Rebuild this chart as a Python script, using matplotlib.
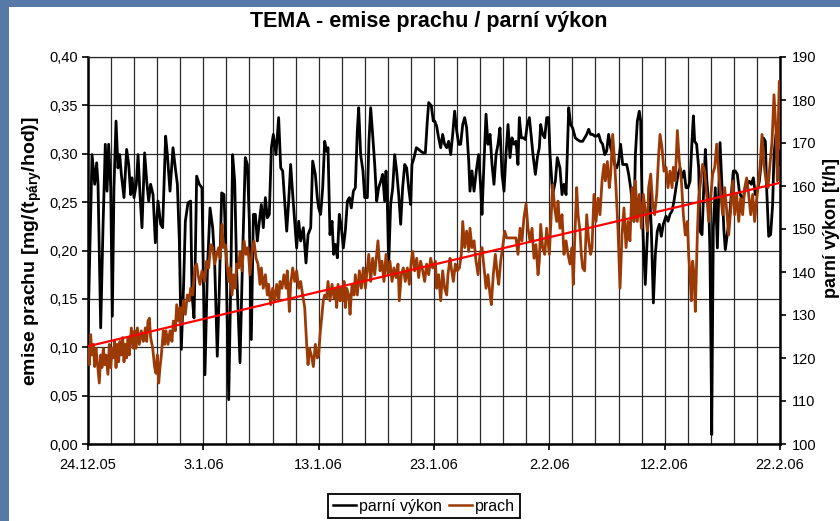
import matplotlib
matplotlib.use("Agg")
import matplotlib.pyplot as plt
from matplotlib.patches import Rectangle
from matplotlib.ticker import MultipleLocator, FuncFormatter

plt.rcParams['font.family'] = ['Liberation Sans', 'DejaVu Sans']
plt.rcParams['mathtext.fontset'] = 'custom'
plt.rcParams['mathtext.rm'] = 'Liberation Sans:bold'
plt.rcParams['mathtext.it'] = 'Liberation Sans:bold'
plt.rcParams['mathtext.bf'] = 'Liberation Sans:bold'
plt.rcParams['mathtext.default'] = 'rm'

# ---------------- data ----------------
title = "TEMA - emise prachu / parní výkon"
x_tick_days = [0, 10, 20, 30, 40, 50, 60]
x_tick_labels = ["24.12.05", "3.1.06", "13.1.06", "23.1.06", "2.2.06", "12.2.06", "22.2.06"]
left_ticks = [0.0, 0.05, 0.10, 0.15, 0.20, 0.25, 0.30, 0.35, 0.40]
right_ticks = [100, 110, 120, 130, 140, 150, 160, 170, 180, 190]
series_names = ["parní výkon", "prach"]

# parní výkon [t/h]  (day since 24.12.05, value)
vykon_points = [
    (0.00,126.2),(0.35,167.3),(0.58,160.4),(0.75,165.4),(0.87,160.4),(1.10,127.0),(1.30,150.3),(1.50,169.7),
    (1.65,158.8),(1.79,169.7),(1.97,159.6),(2.11,129.7),(2.25,159.6),(2.43,175.1),(2.60,164.2),(2.75,167.3),
    (2.89,162.7),(3.12,157.3),(3.35,168.5),(3.53,165.0),(3.70,158.0),(3.82,161.9),(3.99,157.3),(4.19,160.4),
    (4.34,167.3),(4.51,158.0),(4.68,150.3),(4.91,167.7),(5.09,161.1),(5.26,156.5),(5.43,160.4),(5.64,158.0),
    (5.84,146.8),(6.07,156.5),(6.30,151.1),(6.47,150.3),(6.73,171.6),(6.88,167.3),(7.11,158.8),(7.37,168.9),
    (7.57,164.2),(7.75,160.4),(7.92,147.2),(8.09,122.0),(8.29,137.1),(8.44,151.8),(8.67,156.1),(8.90,156.5),
    (9.02,134.8),(9.19,129.3),(9.31,144.1),(9.42,162.3),(9.65,160.4),(9.88,159.6),
    (10.14,116.1),(10.35,140.2),(10.58,154.9),(10.81,150.3),(10.98,142.5),(11.21,120.4),(11.39,136.3),
    (11.59,158.4),(11.79,158.0),(11.97,144.1),(12.20,110.3),(12.37,136.3),(12.54,167.3),(12.72,161.1),
    (12.89,140.2),(13.18,118.9),(13.41,144.1),(13.64,166.6),(13.82,165.0),(13.99,151.8),(14.16,124.3),
    (14.34,153.4),(14.51,153.4),(14.68,147.2),(14.86,151.8),(15.03,155.7),(15.20,150.3),(15.38,157.3),
    (15.55,152.6),(15.72,153.4),(15.90,168.9),(16.07,172.0),(16.30,167.3),(16.53,175.9),(16.71,164.2),
    (16.88,163.5),(17.05,156.5),(17.23,149.5),(17.40,156.5),(17.57,165.0),(17.75,158.0),(17.92,151.8),
    (18.09,145.6),(18.27,151.8),(18.44,147.2),(18.67,150.3),(18.90,142.1),(19.08,148.7),(19.31,150.3),
    (19.48,165.8),(19.71,162.7),(19.88,157.3),
    (20.00,154.9),(20.17,153.4),(20.35,159.6),(20.52,170.4),(20.69,168.1),(20.81,168.9),(20.98,148.7),
    (21.16,151.8),(21.30,144.1),(21.45,146.4),(21.62,143.3),(21.79,153.4),(21.97,150.3),(22.14,145.6),
    (22.31,149.5),(22.49,156.5),(22.66,157.3),(22.83,154.9),(23.01,158.8),(23.18,159.6),(23.35,172.8),
    (23.47,178.2),(23.64,167.3),(23.84,163.5),(23.99,157.3),(24.22,157.3),(24.36,170.4),(24.51,178.2),
    (24.68,172.0),(24.86,165.0),(25.03,156.5),(25.20,159.6),(25.38,161.1),(25.55,162.7),(25.72,156.5),
    (25.84,163.5),(25.95,156.5),(26.07,141.7),(26.24,155.7),(26.42,159.6),(26.59,167.3),(26.76,163.5),
    (26.94,158.0),(27.11,151.1),(27.28,159.6),(27.46,165.0),(27.63,164.2),(27.80,159.6),(27.98,155.7),
    (28.09,165.0),(28.27,166.6),(28.47,168.9),(28.67,168.5),(28.84,168.1),(29.08,167.7),(29.25,167.7),
    (29.42,175.1),(29.54,179.4),(29.77,178.6),(29.94,175.1),
    (30.06,175.1),(30.23,173.9),(30.40,171.2),(30.58,168.9),(30.75,172.0),(30.92,169.7),(31.10,168.9),
    (31.27,170.4),(31.45,167.3),(31.62,172.0),(31.79,177.4),(31.97,172.8),(32.14,169.7),(32.31,169.7),
    (32.49,174.3),(32.66,175.9),(32.83,173.5),(33.01,165.8),(33.12,158.8),(33.29,163.5),(33.47,158.8),
    (33.70,164.2),(33.87,167.3),(34.05,159.6),(34.16,153.4),(34.34,165.8),(34.51,176.7),(34.68,169.7),
    (34.86,172.0),(35.03,165.0),(35.20,160.4),(35.38,167.3),(35.55,169.7),(35.72,173.5),(35.90,162.7),
    (36.07,158.8),(36.24,167.3),(36.42,174.3),(36.59,166.6),(36.76,171.2),(36.94,169.7),(37.11,170.4),
    (37.28,165.0),(37.40,175.9),(37.57,171.2),(37.75,171.2),(37.92,170.8),(38.09,174.3),(38.27,175.9),
    (38.44,171.2),(38.61,166.6),(38.79,162.7),(38.96,166.6),(39.13,168.9),(39.25,174.3),(39.42,172.0),
    (39.60,171.2),(39.77,175.9),(39.94,175.9),
    (40.06,167.3),(40.29,158.0),(40.52,161.1),(40.69,166.6),(40.92,164.2),(41.10,158.0),(41.27,160.4),
    (41.45,158.0),(41.56,167.3),(41.68,178.2),(41.85,174.3),(42.02,173.5),(42.25,171.2),(42.43,170.8),
    (42.66,170.4),(42.89,170.4),(43.06,171.2),(43.24,172.0),(43.41,173.2),(43.58,172.0),(43.76,172.0),
    (43.93,171.6),(44.10,171.6),(44.28,172.0),(44.45,170.4),(44.62,169.7),(44.80,167.3),(44.97,168.1),
    (45.14,172.0),(45.32,168.9),(45.49,167.3),(45.66,165.0),(45.84,164.2),(46.01,165.8),(46.18,169.7),
    (46.36,165.0),(46.53,165.0),(46.71,165.0),(46.88,162.7),(47.05,159.6),(47.23,154.9),(47.34,151.8),
    (47.46,167.3),(47.63,175.1),(47.80,177.4),(47.92,175.1),(48.03,158.0),(48.15,147.2),(48.32,137.1),
    (48.50,148.7),(48.67,159.6),(48.84,150.3),(49.02,132.8),(49.19,144.1),(49.36,149.5),(49.54,151.1),
    (49.71,148.3),(49.88,151.1),
    (50.12,153.0),(50.29,151.8),(50.46,153.4),(50.64,154.2),(50.81,156.5),(50.98,159.6),(51.16,162.7),
    (51.33,164.2),(51.50,161.9),(51.68,163.5),(51.85,159.6),(52.02,159.6),(52.20,161.1),(52.37,170.4),
    (52.49,176.3),(52.60,170.4),(52.77,169.7),(52.95,164.2),(53.06,149.5),(53.24,148.7),(53.41,161.1),
    (53.53,168.5),(53.64,161.9),(53.82,155.7),(53.93,144.1),(54.02,120.8),(54.08,102.2),(54.13,120.8),
    (54.22,150.3),(54.39,159.6),(54.57,145.6),(54.68,157.3),(54.80,170.1),(54.97,159.6),(55.14,149.5),
    (55.26,145.2),(55.43,148.7),(55.61,152.6),(55.78,158.0),(55.95,163.5),(56.13,163.5),(56.30,162.7),
    (56.47,158.8),(56.65,157.3),(56.82,157.3),(56.99,159.6),(57.17,160.4),(57.34,161.1),(57.51,160.4),
    (57.69,161.9),(57.86,158.0),(58.03,158.8),(58.21,161.1),(58.38,165.8),(58.55,171.2),(58.73,170.4),
    (58.84,159.6),(59.02,148.3),(59.19,148.7),(59.36,155.7),(59.48,167.3),(59.65,172.0),(59.77,164.2),
    (59.88,168.9),(60.00,165.0),
]

# prach [mg/(t_páry/hod)]  (day since 24.12.05, value)
prach_points = [
    (0.00,0.099),(0.12,0.082),(0.23,0.113),(0.35,0.092),(0.46,0.103),(0.58,0.080),(0.69,0.099),(0.81,0.085),
    (0.98,0.063),(1.10,0.092),(1.21,0.079),(1.33,0.099),(1.45,0.082),(1.56,0.092),(1.73,0.072),(1.85,0.103),
    (1.97,0.079),(2.08,0.099),(2.20,0.089),(2.31,0.106),(2.43,0.079),(2.54,0.103),(2.66,0.085),(2.77,0.106),
    (2.89,0.092),(3.01,0.110),(3.12,0.085),(3.24,0.103),(3.35,0.089),(3.47,0.110),(3.58,0.092),(3.76,0.120),
    (3.93,0.099),(4.05,0.117),(4.16,0.099),(4.28,0.120),(4.45,0.103),(4.62,0.117),(4.80,0.106),(4.97,0.120),
    (5.09,0.106),(5.20,0.127),(5.32,0.130),(5.43,0.110),(5.61,0.099),(5.78,0.079),(5.90,0.073),(6.01,0.092),
    (6.13,0.063),(6.24,0.079),(6.36,0.092),(6.53,0.117),(6.65,0.103),(6.76,0.117),(6.94,0.103),(7.11,0.117),
    (7.28,0.106),(7.40,0.127),(7.57,0.117),(7.69,0.144),(7.86,0.127),(7.98,0.141),(8.09,0.123),(8.27,0.148),
    (8.44,0.134),(8.61,0.154),(8.79,0.148),(8.90,0.161),(9.08,0.154),(9.25,0.182),(9.42,0.186),(9.54,0.175),
    (9.71,0.165),(9.88,0.179),
    (10.12,0.168),(10.29,0.189),(10.46,0.182),(10.64,0.206),(10.81,0.203),(10.98,0.186),(11.16,0.196),
    (11.33,0.203),(11.45,0.192),(11.62,0.227),(11.73,0.203),(11.91,0.206),(12.02,0.189),(12.20,0.168),
    (12.31,0.182),(12.49,0.154),(12.60,0.175),(12.77,0.161),(12.89,0.186),(13.06,0.182),(13.18,0.199),
    (13.35,0.179),(13.53,0.210),(13.70,0.196),(13.87,0.203),(14.05,0.175),(14.22,0.199),(14.39,0.210),
    (14.57,0.192),(14.74,0.186),(14.91,0.165),(15.03,0.182),(15.20,0.161),(15.38,0.175),(15.55,0.154),
    (15.66,0.165),(15.84,0.144),(16.01,0.161),(16.18,0.148),(16.36,0.165),(16.53,0.148),(16.65,0.168),
    (16.82,0.161),(16.99,0.175),(17.17,0.161),(17.28,0.179),(17.46,0.137),(17.57,0.165),(17.75,0.182),
    (17.92,0.168),(18.09,0.179),(18.27,0.161),(18.44,0.168),(18.61,0.154),(18.79,0.141),(18.96,0.103),
    (19.08,0.082),(19.19,0.099),(19.36,0.092),(19.54,0.080),(19.71,0.103),(19.88,0.089),
    (20.00,0.092),(20.12,0.113),(20.23,0.127),(20.40,0.148),(20.52,0.154),(20.69,0.151),(20.81,0.168),
    (20.98,0.148),(21.16,0.165),(21.33,0.151),(21.45,0.161),(21.56,0.141),(21.68,0.165),(21.85,0.148),
    (21.97,0.161),(22.08,0.148),(22.20,0.168),(22.31,0.141),(22.43,0.161),(22.60,0.154),(22.72,0.134),
    (22.89,0.165),(23.06,0.154),(23.18,0.175),(23.35,0.154),(23.53,0.179),(23.70,0.161),(23.87,0.182),
    (24.05,0.161),(24.22,0.182),(24.34,0.196),(24.51,0.168),(24.68,0.192),(24.86,0.175),(25.03,0.196),
    (25.14,0.210),(25.32,0.179),(25.49,0.189),(25.66,0.168),(25.84,0.196),(26.01,0.175),(26.18,0.189),
    (26.36,0.168),(26.53,0.182),(26.71,0.172),(26.88,0.186),(26.99,0.148),(27.17,0.175),(27.34,0.182),
    (27.51,0.168),(27.69,0.182),(27.86,0.165),(28.03,0.189),(28.15,0.199),(28.32,0.179),(28.50,0.192),
    (28.67,0.172),(28.84,0.189),(29.02,0.179),(29.19,0.168),(29.36,0.186),(29.54,0.175),(29.71,0.192),
    (29.88,0.182),
    (30.12,0.189),(30.23,0.161),(30.40,0.175),(30.58,0.148),(30.75,0.179),(30.92,0.161),(31.10,0.154),
    (31.21,0.175),(31.39,0.192),(31.50,0.182),(31.68,0.168),(31.85,0.186),(32.02,0.179),(32.20,0.182),
    (32.37,0.196),(32.49,0.230),(32.66,0.203),(32.83,0.220),(33.01,0.199),(33.12,0.223),(33.29,0.203),
    (33.47,0.210),(33.64,0.189),(33.82,0.175),(33.99,0.196),(34.16,0.203),(34.34,0.182),(34.51,0.161),
    (34.68,0.175),(34.86,0.154),(34.97,0.144),(35.14,0.175),(35.32,0.196),(35.49,0.175),(35.61,0.165),
    (35.78,0.189),(35.95,0.203),(36.13,0.220),(36.30,0.213),(36.59,0.213),(36.88,0.213),(37.11,0.213),
    (37.28,0.196),(37.46,0.223),(37.63,0.210),(37.80,0.234),(37.98,0.248),(38.15,0.223),(38.32,0.210),
    (38.50,0.223),(38.67,0.192),(38.84,0.206),(39.02,0.175),(39.13,0.189),(39.25,0.227),(39.42,0.203),
    (39.60,0.196),(39.77,0.223),(39.94,0.203),
    (40.00,0.196),(40.17,0.237),(40.29,0.268),(40.46,0.244),(40.64,0.230),(40.75,0.251),(40.92,0.223),
    (41.10,0.237),(41.27,0.196),(41.45,0.210),(41.62,0.196),(41.79,0.186),(41.97,0.203),(42.08,0.165),
    (42.20,0.210),(42.37,0.265),(42.49,0.237),(42.66,0.220),(42.77,0.196),(42.89,0.182),(43.06,0.179),
    (43.24,0.237),(43.41,0.210),(43.58,0.196),(43.70,0.203),(43.87,0.258),(44.05,0.230),(44.22,0.254),
    (44.39,0.237),(44.57,0.272),(44.74,0.289),(44.86,0.272),(45.03,0.292),(45.20,0.265),(45.32,0.279),
    (45.49,0.320),(45.66,0.292),(45.78,0.265),(45.95,0.223),(46.13,0.161),(46.30,0.216),(46.47,0.244),
    (46.65,0.203),(46.82,0.230),(46.99,0.210),(47.17,0.265),(47.34,0.230),(47.46,0.272),(47.63,0.230),
    (47.80,0.258),(47.98,0.223),(48.15,0.258),(48.32,0.241),(48.50,0.220),(48.61,0.265),(48.79,0.279),
    (48.96,0.248),(49.13,0.237),(49.31,0.258),(49.48,0.299),(49.60,0.320),(49.77,0.306),(49.94,0.282),
    (50.12,0.286),(50.29,0.265),(50.46,0.282),(50.64,0.265),(50.75,0.286),(50.92,0.272),(51.10,0.324),
    (51.27,0.292),(51.45,0.272),(51.62,0.237),(51.79,0.216),(51.97,0.230),(52.08,0.196),(52.20,0.175),
    (52.31,0.148),(52.43,0.189),(52.54,0.175),(52.66,0.137),(52.83,0.216),(52.95,0.254),(53.12,0.272),
    (53.29,0.289),(53.47,0.282),(53.64,0.258),(53.82,0.230),(53.99,0.254),(54.16,0.279),(54.34,0.286),
    (54.51,0.310),(54.68,0.282),(54.86,0.258),(55.03,0.237),(55.20,0.265),(55.38,0.241),(55.55,0.216),
    (55.72,0.241),(55.90,0.272),(56.07,0.237),(56.24,0.258),(56.42,0.230),(56.59,0.254),(56.76,0.237),
    (56.94,0.265),(57.11,0.275),(57.28,0.258),(57.46,0.237),(57.63,0.258),(57.80,0.230),(57.98,0.254),
    (58.15,0.272),(58.27,0.286),(58.44,0.320),(58.61,0.289),(58.79,0.272),(58.96,0.265),(59.13,0.289),
    (59.31,0.313),(59.48,0.361),(59.65,0.324),(59.77,0.272),(59.88,0.348),(59.94,0.375),(60.00,0.306),
]

# linear trend of prach (start / end of the period)
trend_days = [0, 60]
trend_vals = [0.101, 0.270]

vykon_days = [p[0] for p in vykon_points]
vykon_vals = [p[1] for p in vykon_points]
prach_days = [p[0] for p in prach_points]
prach_vals = [p[1] for p in prach_points]

# ---------------- figure ----------------
W, H = 840, 521
fig = plt.figure(figsize=(W / 100, H / 100), dpi=100)
fig.patch.set_facecolor('#5679a8')
fig.add_artist(Rectangle((9 / W, 0), 1, 1 - 7 / H, transform=fig.transFigure,
                         facecolor='white', edgecolor='none', zorder=0))

ax1 = fig.add_axes([88 / W, 77 / H, 692 / W, 387 / H])
ax2 = ax1.twinx()
ax1.set_zorder(1)
ax2.set_zorder(2)
ax1.patch.set_facecolor('white')
ax2.patch.set_visible(False)

ax1.set_xlim(0, 60)
ax1.set_ylim(0, 0.4)
ax2.set_ylim(100, 190)

# grid
ax1.set_xticks(x_tick_days)
ax1.set_xticklabels(x_tick_labels)
ax1.xaxis.set_minor_locator(MultipleLocator(2))
ax1.set_yticks(left_ticks)
ax1.yaxis.set_major_formatter(FuncFormatter(lambda v, p: f"{v:.2f}".replace('.', ',')))
ax1.grid(True, which='both', axis='x', color='#2a2a2a', linewidth=0.9)
ax1.grid(True, which='major', axis='y', color='#2a2a2a', linewidth=0.9)
ax1.set_axisbelow(True)
ax2.set_yticks(right_ticks)

# lines
l_vykon, = ax2.plot(vykon_days, vykon_vals, color='black', linewidth=2.0, zorder=2,
                    solid_joinstyle='round')
l_prach, = ax2.plot(prach_days, prach_vals, color='#9c3a06', linewidth=2.0, zorder=3,
                    transform=ax1.transData, solid_joinstyle='round')
ax2.plot(trend_days, trend_vals, color='#ff0000', linewidth=1.6, zorder=4,
         transform=ax1.transData)
ax2.set_ylim(100, 190)
ax1.set_xlim(0, 60)

# spines
for s in ['top', 'right']:
    ax1.spines[s].set_visible(False)
for s in ['top', 'left', 'bottom']:
    ax2.spines[s].set_visible(False)
ax1.spines['left'].set_linewidth(1.8)
ax1.spines['bottom'].set_linewidth(1.8)
ax2.spines['right'].set_linewidth(1.8)
ax1.spines['top'].set_visible(True)
ax1.spines['top'].set_linewidth(0.9)
ax1.spines['top'].set_color('#2a2a2a')

ax1.tick_params(axis='y', which='major', direction='out', length=4, width=1.2, pad=3,
                labelsize=10.5, colors='black')
ax1.tick_params(axis='x', which='major', direction='out', length=4, width=1.2, pad=6,
                labelsize=10.5)
ax1.tick_params(axis='x', which='minor', length=0)
ax2.tick_params(axis='y', direction='out', length=4, width=1.2, pad=4.5, labelsize=10.5)

# labels
fig.text(428.7 / W, 1 - 27.3 / H, title, ha='center', va='baseline',
         fontsize=15.5, fontweight='bold')
fig.text(32.5 / W, 1 - 251 / H, "emise prachu [mg/(t$_{páry}$/hod)]", rotation=90,
         ha='center', va='center', fontsize=14, fontweight='bold')
fig.text(832 / W, 1 - 228 / H, "parní výkon [t/h]", rotation=90,
         ha='center', va='center', fontsize=13, fontweight='bold')

leg = fig.legend([l_vykon, l_prach], series_names, loc='center',
                 bbox_to_anchor=(424 / W, 1 - 506 / H), ncol=2, fontsize=11.5,
                 frameon=True, fancybox=False, edgecolor='black', framealpha=1,
                 handlelength=1.45, handletextpad=0.2, columnspacing=0.45,
                 borderpad=0.3)
leg.get_frame().set_linewidth(1.3)
for lh in leg.get_lines():
    lh.set_linewidth(1.8)

fig.savefig('out.png', dpi=100, facecolor=fig.get_facecolor())
